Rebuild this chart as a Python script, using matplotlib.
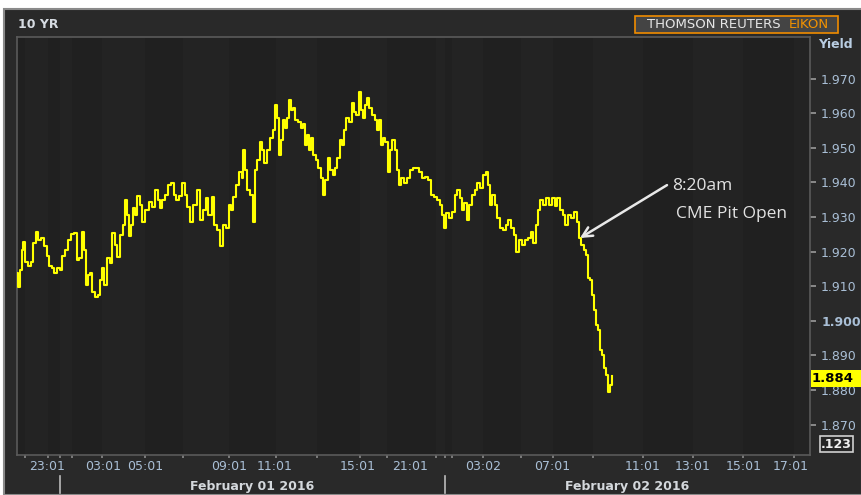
import matplotlib
matplotlib.use("Agg")
import matplotlib.pyplot as plt
from matplotlib.patches import Rectangle

# 10 year yield, tick slots across two sessions (x = slot index on the compressed time axis)
slots = [0, 1, 3, 5, 6, 8, 11, 14, 16, 19, 21, 24, 27, 30, 32, 35, 37, 40, 43, 45,
         48, 51, 54, 57, 60, 62, 65, 67, 69, 71, 73, 75, 78, 81, 83, 85, 87, 90, 93, 95,
         98, 100, 103, 106, 108, 110, 112, 114, 116, 118, 120, 123, 125, 128, 132, 135, 138, 141, 143, 145,
         148, 151, 154, 157, 159, 162, 165, 168, 170, 173, 176, 180, 183, 186, 189, 191, 195, 197, 200, 203,
         206, 209, 212, 214, 216, 219, 222, 225, 226, 228, 230, 233, 236, 238, 240, 243, 245, 247, 250, 253,
         256, 258, 260, 262, 264, 266, 268, 270, 272, 274, 276, 278, 281, 284, 286, 288, 290, 292, 294, 296,
         299, 301, 304, 306, 308, 311, 313, 316, 318, 320, 323, 325, 327, 329, 332, 335, 337, 339, 342, 344,
         346, 348, 350, 352, 355, 358, 360, 362, 364, 366, 368, 371, 373, 375, 378, 380, 382, 384, 387, 390,
         393, 396, 399, 402, 405, 408, 411, 414, 417, 420, 423, 425, 427, 429, 432, 435, 438, 440, 443, 445,
         447, 450, 452, 455, 458, 460, 463, 466, 469, 471, 473, 475, 478, 480, 483, 486, 489, 491, 494, 497,
         499, 502, 505, 508, 511, 514, 516, 519, 521, 523, 526, 529, 532, 535, 538, 540, 543, 546, 548, 551,
         554, 557, 560, 562, 564, 567, 569, 571, 573, 575, 577, 579, 581, 583, 585, 587, 589, 591, 593, 595]
yields = [1.9138, 1.9097, 1.9147, 1.9204, 1.9228, 1.9170, 1.9158, 1.9170, 1.9225, 1.9256,
          1.9233, 1.9239, 1.9216, 1.9187, 1.9158, 1.9152, 1.9138, 1.9152, 1.9147, 1.9187,
          1.9204, 1.9233, 1.9251, 1.9254, 1.9175, 1.9181, 1.9256, 1.9204, 1.9103, 1.9132,
          1.9138, 1.9083, 1.9069, 1.9074, 1.9118, 1.9152, 1.9103, 1.9181, 1.9167, 1.9254,
          1.9219, 1.9184, 1.9248, 1.9277, 1.9349, 1.9306, 1.9245, 1.9277, 1.9326, 1.9306,
          1.9360, 1.9334, 1.9285, 1.9320, 1.9343, 1.9328, 1.9378, 1.9349, 1.9326, 1.9349,
          1.9363, 1.9392, 1.9398, 1.9363, 1.9349, 1.9360, 1.9398, 1.9363, 1.9328, 1.9285,
          1.9334, 1.9378, 1.9291, 1.9320, 1.9355, 1.9306, 1.9358, 1.9277, 1.9262, 1.9216,
          1.9277, 1.9268, 1.9334, 1.9320, 1.9358, 1.9392, 1.9430, 1.9413, 1.9494, 1.9436,
          1.9378, 1.9363, 1.9285, 1.9436, 1.9465, 1.9517, 1.9494, 1.9456, 1.9494, 1.9529,
          1.9551, 1.9623, 1.9586, 1.9479, 1.9523, 1.9580, 1.9557, 1.9586, 1.9638, 1.9609,
          1.9615, 1.9580, 1.9574, 1.9557, 1.9568, 1.9508, 1.9537, 1.9494, 1.9529, 1.9479,
          1.9465, 1.9442, 1.9413, 1.9363, 1.9407, 1.9471, 1.9436, 1.9421, 1.9442, 1.9471,
          1.9522, 1.9508, 1.9551, 1.9586, 1.9574, 1.9629, 1.9603, 1.9594, 1.9661, 1.9609,
          1.9586, 1.9623, 1.9643, 1.9615, 1.9594, 1.9580, 1.9551, 1.9580, 1.9508, 1.9529,
          1.9517, 1.9430, 1.9494, 1.9523, 1.9494, 1.9436, 1.9392, 1.9413, 1.9398, 1.9413,
          1.9436, 1.9442, 1.9442, 1.9430, 1.9413, 1.9416, 1.9407, 1.9363, 1.9358, 1.9349,
          1.9334, 1.9306, 1.9268, 1.9312, 1.9297, 1.9314, 1.9363, 1.9378, 1.9355, 1.9320,
          1.9340, 1.9291, 1.9334, 1.9363, 1.9378, 1.9398, 1.9384, 1.9421, 1.9430, 1.9392,
          1.9334, 1.9363, 1.9334, 1.9297, 1.9268, 1.9262, 1.9277, 1.9291, 1.9268, 1.9248,
          1.9199, 1.9233, 1.9219, 1.9233, 1.9239, 1.9256, 1.9225, 1.9277, 1.9320, 1.9349,
          1.9334, 1.9355, 1.9334, 1.9355, 1.9332, 1.9355, 1.9320, 1.9306, 1.9277, 1.9306,
          1.9297, 1.9314, 1.9285, 1.9239, 1.9219, 1.9204, 1.9190, 1.9123, 1.9118, 1.9074,
          1.9031, 1.8987, 1.8973, 1.8915, 1.8900, 1.8863, 1.8843, 1.8794, 1.8814, 1.8840]

y_ticks = [1.870, 1.880, 1.890, 1.900, 1.910, 1.920, 1.930, 1.940, 1.950, 1.960, 1.970]
x_tick_pos = [30, 86, 128, 212, 258, 341, 393, 466, 535, 626, 676, 727, 774]
x_tick_lab = ["23:01", "03:01", "05:01", "09:01", "11:01", "15:01", "21:01",
              "03:02", "07:01", "11:01", "13:01", "15:01", "17:01"]
minor_pos = [8, 31, 43, 55, 85, 128, 166, 212, 259, 300, 343, 370, 419, 428, 435,
             466, 504, 536, 576, 626, 676, 726, 777]
date_sep = [43, 428]
date_lab = ["February 01 2016", "February 02 2016"]
date_pos = [235, 610]
last_val = "1.884"

W, H = 862, 495
fig = plt.figure(figsize=(W / 100, H / 100), dpi=100)
fig.patch.set_facecolor("white")

def fx(x):
    return x / W

def fy(y):
    return 1 - y / H

# outer dark panel
fig.patches.append(Rectangle((fx(4), 0), 1 - fx(4), fy(9), transform=fig.transFigure,
                             facecolor="#292929", edgecolor="#8a8a8a", linewidth=1.5, zorder=-2))

ax = fig.add_axes([fx(17), fy(455), fx(810) - fx(17), fy(37) - fy(455)])
ax.set_facecolor("#212121")
ax.set_xlim(0, 793)
ax.set_ylim(1.8612, 1.9820)

# faint vertical bands between time ticks
edges = [0] + minor_pos + [793]
for i in range(len(edges) - 1):
    ax.axvspan(edges[i], edges[i + 1], color="#202020" if i % 2 == 0 else "#232323", lw=0, zorder=0)

ax.plot(slots, yields, color="#ffff00", lw=1.5, drawstyle="steps-post", zorder=3)

for s in ax.spines.values():
    s.set_color("#5a5a5a")
    s.set_linewidth(1.2)

ax.yaxis.tick_right()
ax.set_yticks(y_ticks)
ax.set_yticklabels(["%.3f" % v for v in y_ticks])
ax.tick_params(axis="y", colors="#9a9a9a", labelcolor="#a9bfd6", length=4, width=1.2,
               pad=4, labelsize=9)
for lab in ax.get_yticklabels():
    if lab.get_text() == "1.900":
        lab.set_fontweight("bold")
ax.set_xticks(minor_pos)
ax.set_xticklabels([])
ax.tick_params(axis="x", colors="#8a8a8a", length=2, width=1.2, direction="out")

for p, t in zip(x_tick_pos, x_tick_lab):
    ax.text(p, -0.028, t, transform=ax.get_xaxis_transform(), ha="center", va="center",
            color="#a9bfd6", fontsize=9)
for p, t in zip(date_pos, date_lab):
    ax.text(p, -0.075, t, transform=ax.get_xaxis_transform(), ha="center", va="center",
            color="#d4d8dc", fontsize=9, fontweight="bold")
for p in date_sep:
    ax.plot([p, p], [-0.05, -0.09], transform=ax.get_xaxis_transform(), color="#bbbbbb",
            lw=1.2, clip_on=False)

# annotation
ax.annotate("", xy=(563, 1.9239), xytext=(650, 1.9392),
            arrowprops=dict(arrowstyle="->,head_length=0.7,head_width=0.35", color="#e8e8e8",
                            lw=1.8, shrinkA=0, shrinkB=0))
ax.text(655, 1.9389, "8:20am", color="#e2e2e2", fontsize=12.5, va="center", ha="left",
        family="Open Sans")
ax.text(659, 1.9308, "CME Pit Open", color="#e2e2e2", fontsize=12.5, va="center", ha="left",
        family="Open Sans")

# header texts
fig.text(fx(18), fy(24), "10 YR", color="#d6dbe2", fontsize=9, fontweight="bold", va="center")
fig.patches.append(Rectangle((fx(635), fy(33)), fx(838) - fx(635), fy(16) - fy(33),
                             transform=fig.transFigure, facecolor="#444444",
                             edgecolor="#f08c00", linewidth=1.2))
fig.text(fx(781), fy(24.5), "THOMSON REUTERS", color="#e6e6e6", fontsize=9.5, ha="right",
         va="center")
fig.text(fx(829), fy(24.5), "EIKON", color="#f39200", fontsize=9.5, ha="right", va="center")
fig.text(fx(818), fy(45), "Yield", color="#b9cde2", fontsize=9, fontweight="bold", va="center")

# last value and precision boxes
fig.patches.append(Rectangle((fx(811), fy(387)), 1 - fx(811), fy(370) - fy(387),
                             transform=fig.transFigure, facecolor="#ffff00", edgecolor="none",
                             zorder=5))
fig.text(fx(812), fy(378.5), last_val, color="black", fontsize=9.5, fontweight="bold",
         va="center", ha="left", zorder=6)
fig.patches.append(Rectangle((fx(820), fy(452)), fx(853) - fx(820), fy(436) - fy(452),
                             transform=fig.transFigure, facecolor="#262626",
                             edgecolor="#d0d0d0", linewidth=1.2, zorder=5))
fig.text(fx(836.5), fy(444), ".123", color="#f0f0f0", fontsize=9, fontweight="bold",
         va="center", ha="center", zorder=6)

fig.savefig("out.png", dpi=100, facecolor=fig.get_facecolor())
